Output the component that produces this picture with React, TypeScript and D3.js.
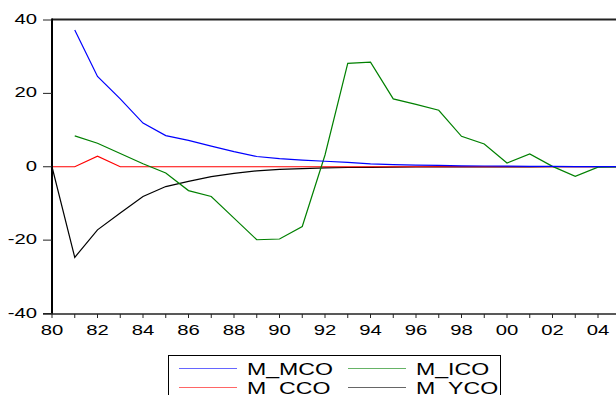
import React from 'react';
import * as d3 from 'd3';

const YEARS = d3.range(1980, 2006);
const M_MCO = [null, 37.3, 24.6, 18.5, 11.9, 8.5, 7.2, 5.6, 4.1, 2.8, 2.2, 1.8, 1.5, 1.2, 0.8, 0.6, 0.45, 0.35, 0.25, 0.2, 0.15, 0.1, 0.08, 0.05, 0.04, 0.03];
const M_ICO = [null, 8.4, 6.4, 3.6, 0.8, -1.7, -6.5, -8.1, -14.0, -19.9, -19.7, -16.3, 3.2, 28.2, 28.5, 18.5, 17.0, 15.4, 8.3, 6.2, 1.0, 3.5, 0.1, -2.6, -0.1, 0.0];
const M_CCO = [0, 0, 2.9, 0, 0, 0, 0, 0, 0, 0, 0, 0, 0, 0, 0, 0, 0, 0, 0, 0, 0, 0, 0, 0, 0, 0];
const M_YCO = [0, -24.7, -17.2, -12.6, -8.1, -5.4, -4.0, -2.7, -1.8, -1.1, -0.7, -0.5, -0.3, -0.2, -0.15, -0.1, -0.07, -0.05, -0.04, -0.03, -0.02, -0.01, 0, 0, 0, 0];
const Y_TICKS = [-40, -20, 0, 20, 40];

const SERIES = [
  { name: 'M_MCO', values: M_MCO, color: '#0000ff' },
  { name: 'M_ICO', values: M_ICO, color: '#008000' },
  { name: 'M_CCO', values: M_CCO, color: '#ff0000' },
  { name: 'M_YCO', values: M_YCO, color: '#000000' },
];

const W = 616;
const H = 395;
const LEFT = 52;
const TOP = 20;
const BOTTOM = 314;
const SX = 1.4; // glyphs in the reference are stretched horizontally

const x = d3.scaleLinear().domain([1980, 2005]).range([LEFT, 620.75]);
const y = d3.scaleLinear().domain([-40, 40]).range([313.5, 20]);

const Txt = ({ x: tx, y: ty, size, anchor = 'start', children }: any) => (
  <g transform={`translate(${tx},${ty}) scale(${SX},1)`}>
    <text fontSize={size} textAnchor={anchor} fill="#000">{children}</text>
  </g>
);

export default function App() {
  const line = d3.line<number | null>()
    .defined(d => d !== null)
    .x((_, i) => x(YEARS[i]))
    .y(d => y(d as number));

  const legend = [
    { s: SERIES[0], lx: 179, ty: 368.5 },
    { s: SERIES[1], lx: 348, ty: 368.5 },
    { s: SERIES[2], lx: 179, ty: 387.5 },
    { s: SERIES[3], lx: 348, ty: 387.5 },
  ];

  return (
    <svg width={W} height={H} style={{ position: 'absolute', left: 0, top: 0, background: '#fff' }}
      fontFamily="'Liberation Sans', Arial, sans-serif">
      <rect width={W} height={H} fill="#fff" />
      {SERIES.slice().reverse().map(s => (
        <path key={s.name} d={line(s.values) || ''} fill="none" stroke={s.color} strokeWidth={1.2} />
      ))}
      {/* frame */}
      <line x1={LEFT} x2={W} y1={19.5} y2={19.5} stroke="#222" strokeWidth={2} />
      <line x1={LEFT} x2={LEFT} y1={18.5} y2={BOTTOM} stroke="#000" strokeWidth={2} />
      <line x1={43} x2={W} y1={BOTTOM} y2={BOTTOM} stroke="#222" strokeWidth={1.5} />
      {YEARS.map(yr => (
        <line key={yr} x1={x(yr)} x2={x(yr)} y1={BOTTOM} y2={BOTTOM + 4} stroke="#222" strokeWidth={1} />
      ))}
      {YEARS.filter(yr => yr % 2 === 0).map(yr => (
        <Txt key={yr} x={x(yr)} y={335} size={14.5} anchor="middle">{String(yr % 100).padStart(2, '0')}</Txt>
      ))}
      {Y_TICKS.map(v => (
        <g key={v}>
          <line x1={43} x2={LEFT} y1={y(v)} y2={y(v)} stroke="#222" strokeWidth={1} />
          <Txt x={37} y={y(v) + 4} size={14.5} anchor="end">{String(v)}</Txt>
        </g>
      ))}
      {/* legend */}
      <rect x={168.5} y={355.5} width={332} height={60} fill="#fff" stroke="#000" strokeWidth={1} />
      {legend.map(({ s, lx, ty }) => (
        <g key={s.name}>
          <line x1={lx} x2={lx + 58} y1={ty} y2={ty} stroke={s.color} strokeOpacity={0.6} strokeWidth={1.2} />
          <Txt x={lx + 68} y={ty + 6} size={16.5}>{s.name}</Txt>
        </g>
      ))}
    </svg>
  );
}
